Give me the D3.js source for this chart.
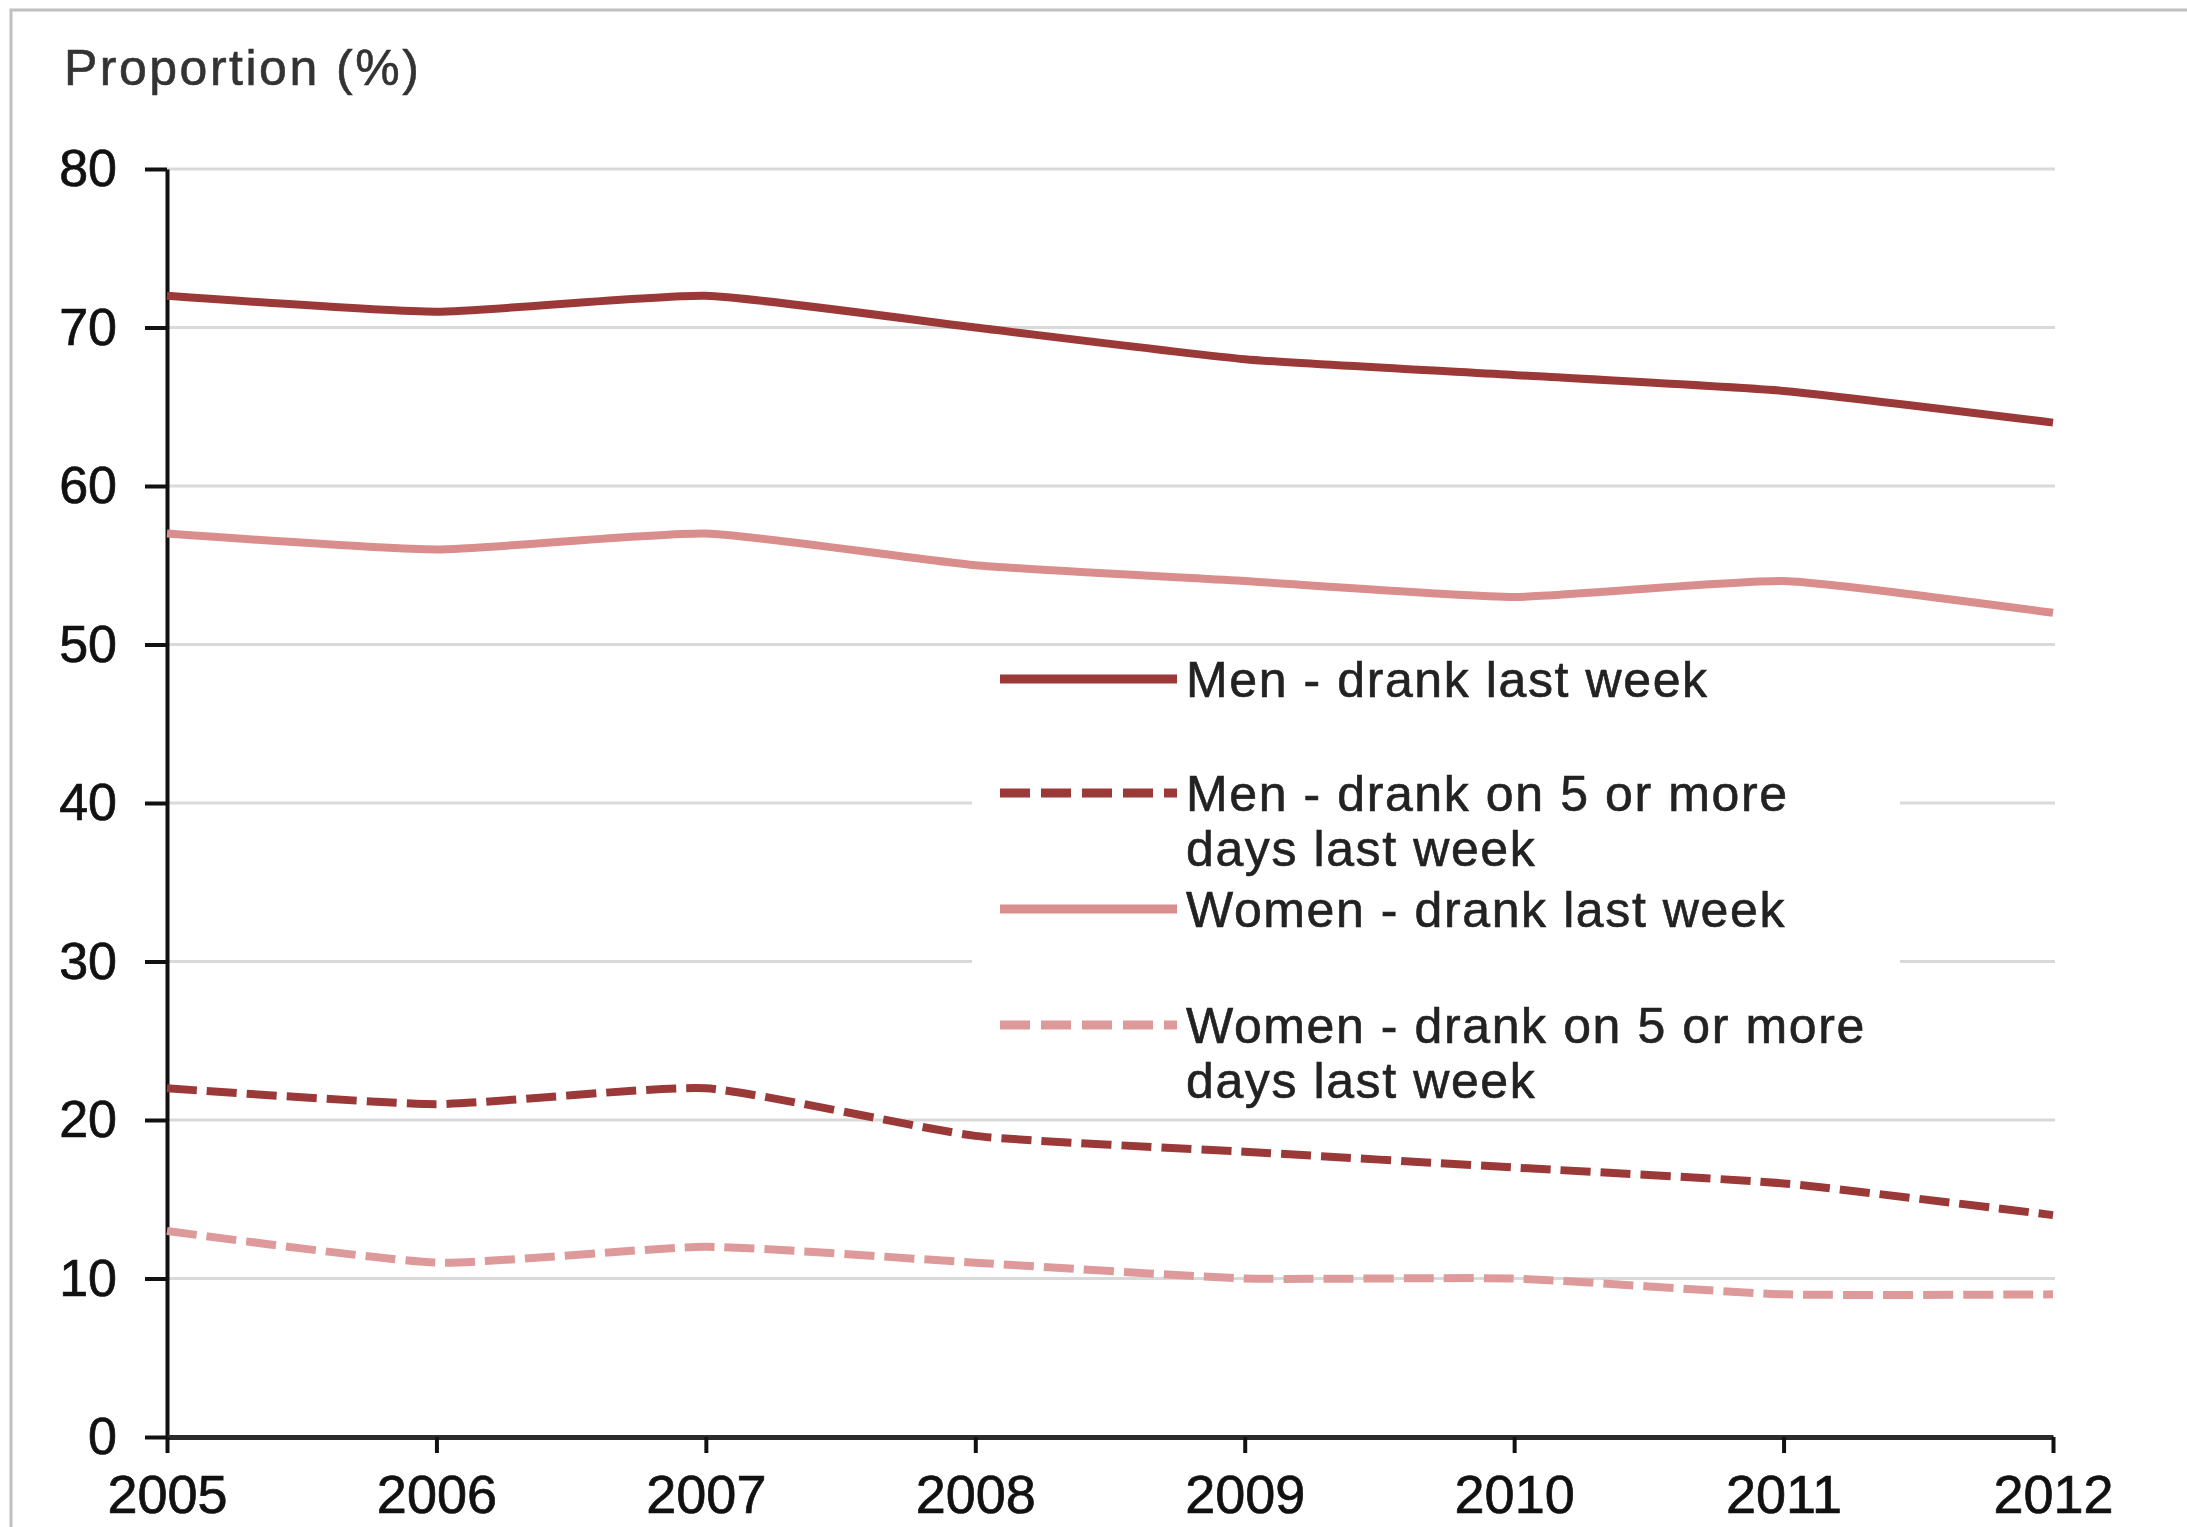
<!DOCTYPE html>
<html>
<head>
<meta charset="utf-8">
<script src="https://cdn.jsdelivr.net/npm/d3@7/dist/d3.min.js"></script>
<style>
  html, body { margin: 0; padding: 0; background: #fff; }
  svg { display: block; }
  text { font-family: "Liberation Sans", Arial, sans-serif; }
</style>
</head>
<body>
<script>
// data
var years = [2005, 2006, 2007, 2008, 2009, 2010, 2011, 2012];
var menDrankLastWeek = [72, 71, 72, 70, 68, 67, 66, 64];
var menFiveOrMore = [22, 21, 22, 19, 18, 17, 16, 14];
var womenDrankLastWeek = [57, 56, 57, 55, 54, 53, 54, 52];
var womenFiveOrMore = [13, 11, 12, 11, 10, 10, 9, 9];
var yTicks = [0, 10, 20, 30, 40, 50, 60, 70, 80];

var seriesNames = [
    ["Men - drank last week"],
    ["Men - drank on 5 or more", "days last week"],
    ["Women - drank last week"],
    ["Women - drank on 5 or more", "days last week"],
];
var seriesValues = [menDrankLastWeek, menFiveOrMore, womenDrankLastWeek, womenFiveOrMore];
var seriesColors = ["#9b3838", "#9b3838", "#d98d8d", "#de9a9a"];
var seriesDashed = [false, true, false, true];

var width = 2187;
var height = 1527;

var svg = d3.select("body").append("svg")
    .attr("width", width)
    .attr("height", height);

svg.append("rect")
    .attr("width", width)
    .attr("height", height)
    .attr("fill", "#fff");

// frame (only top and left edges are visible in the crop)
svg.append("path")
    .attr("d", "M11," + height + "V10H" + width)
    .attr("fill", "none")
    .attr("stroke", "#c0c0c0")
    .attr("stroke-width", 3);

var x = d3.scaleLinear().domain([2005, 2012]).range([167, 2053]);
var y = d3.scaleLinear().domain([0, 80]).range([1437, 169]);

// gridlines
svg.append("g")
    .selectAll("line")
    .data(yTicks.filter((d) => d > 0))
    .join("line")
    .attr("x1", x(2005))
    .attr("x2", x(2012) + 2)
    .attr("y1", (d) => y(d))
    .attr("y2", (d) => y(d))
    .attr("stroke", "#d9d9d9")
    .attr("stroke-width", 3);

// white legend box hides the gridlines behind it
svg.append("rect")
    .attr("x", 972)
    .attr("y", y(50) + 5)
    .attr("width", 928)
    .attr("height", y(20) - y(50) - 9)
    .attr("fill", "#fff");

// title
svg.append("text")
    .attr("x", 64)
    .attr("y", 85)
    .attr("font-size", 50)
    .attr("letter-spacing", 2.5)
    .attr("fill", "#333")
    .attr("stroke", "#333")
    .attr("stroke-width", 0.6)
    .text("Proportion (%)");

// axes
var yAxis = svg.append("g")
    .attr("transform", "translate(" + x(2005) + ",0)")
    .call(d3.axisLeft(y).tickValues(yTicks).tickSize(22).tickSizeOuter(0).tickPadding(28));
yAxis.select(".domain").attr("stroke", "#111").attr("stroke-width", 4);
yAxis.selectAll(".tick line").attr("stroke", "#111").attr("stroke-width", 4);
yAxis.selectAll("text")
    .attr("font-size", 52)
    .attr("fill", "#111")
    .attr("stroke", "#111")
    .attr("stroke-width", 0.7)
    .attr("font-family", "'Liberation Sans', Arial, sans-serif");

var xAxis = svg.append("g")
    .attr("transform", "translate(0," + y(0) + ")")
    .call(d3.axisBottom(x).tickValues(years).tickFormat(d3.format("d")).tickSize(16).tickSizeOuter(0).tickPadding(22));
xAxis.select(".domain").attr("stroke", "#2b2b2b").attr("stroke-width", 5);
xAxis.selectAll(".tick line").attr("stroke", "#111").attr("stroke-width", 4);
xAxis.selectAll("text")
    .attr("font-size", 54)
    .attr("fill", "#111")
    .attr("stroke", "#111")
    .attr("stroke-width", 0.7)
    .attr("font-family", "'Liberation Sans', Arial, sans-serif");

// lines, lightly smoothed like the original
var line = d3.line()
    .x((d, i) => x(years[i]))
    .y((d) => y(d))
    .curve(d3.curveCardinal.tension(0.5));

svg.append("g")
    .selectAll("path")
    .data(seriesValues)
    .join("path")
    .attr("d", (d) => line(d))
    .attr("fill", "none")
    .attr("stroke", (d, i) => seriesColors[i])
    .attr("stroke-width", 8)
    .attr("stroke-dasharray", (d, i) => (seriesDashed[i] ? "30,10" : null));

// legend
var legendRows = [679, 793, 909, 1025];
var legend = svg.append("g")
    .selectAll("g")
    .data(seriesNames)
    .join("g")
    .attr("transform", (d, i) => "translate(0," + legendRows[i] + ")");

legend.append("line")
    .attr("x1", 1000)
    .attr("x2", 1177)
    .attr("stroke", (d, i) => seriesColors[i])
    .attr("stroke-width", 9)
    .attr("stroke-dasharray", (d, i) => (seriesDashed[i] ? "30,11" : null));

legend.selectAll("text")
    .data((d) => d)
    .join("text")
    .attr("x", 1186)
    .attr("y", (d, j) => 18 + j * 55)
    .attr("font-size", 50)
    .attr("letter-spacing", 1.6)
    .attr("fill", "#222")
    .attr("stroke", "#222")
    .attr("stroke-width", 0.6)
    .text((d) => d);
</script>
</body>
</html>
